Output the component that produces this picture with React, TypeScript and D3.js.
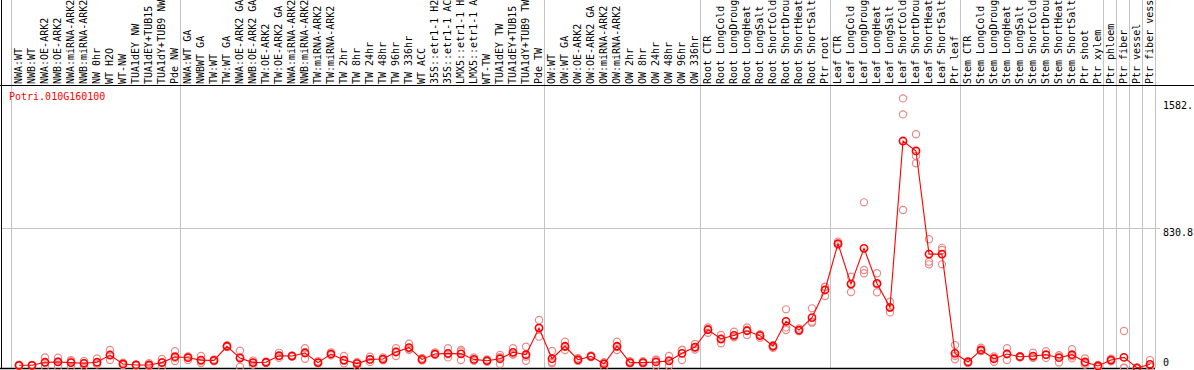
import React from "react";
import * as d3 from "d3";

const categories: string[] = [
  "NWA:WT", "NWB:WT", "NWA:OE-ARK2", "NWB:OE-ARK2", "NWA:miRNA-ARK2", "NWB:miRNA-ARK2",
  "NW 0hr", "WT H2O", "WT-NW", "TUA1dEY NW", "TUA1dEY+TUB15", "TUA1dY+TUB9 NW", "Pde NW",
  "NWA:WT GA", "NWBWT GA", "TW:WT", "TW:WT GA", "NWA:OE-ARK2 GA", "NWB:OE-ARK2 GA",
  "TW:OE-ARK2", "TW:OE-ARK2 GA", "NWA:miRNA-ARK2", "NWB:miRNA-ARK2", "TW:miRNA-ARK2",
  "TW:miRNA-ARK2", "TW 2hr", "TW 8hr", "TW 24hr", "TW 48hr", "TW 96hr", "TW 336hr",
  "WT ACC", "35S::etr1-1 H2", "35S::etr1-1 AC", "LMX5::etr1-1 H", "LMX5::etr1-1 A",
  "WT-TW", "TUA1dEY TW", "TUA1dEY+TUB15", "TUA1dY+TUB9 TW", "Pde TW",
  "OW:WT", "OW:WT GA", "OW:OE-ARK2", "OW:OE-ARK2 GA", "OW:miRNA-ARK2", "OW:miRNA-ARK2",
  "OW 2hr", "OW 8hr", "OW 24hr", "OW 48hr", "OW 96hr", "OW 336hr",
  "Root CTR", "Root LongCold", "Root LongDroug", "Root LongHeat", "Root LongSalt",
  "Root ShortCold", "Root ShortDrou", "Root ShortHeat", "Root ShortSalt", "Ptr root",
  "Leaf CTR", "Leaf LongCold", "Leaf LongDroug", "Leaf LongHeat", "Leaf LongSalt",
  "Leaf ShortCold", "Leaf ShortDrou", "Leaf ShortHeat", "Leaf ShortSalt", "Ptr leaf",
  "Stem CTR", "Stem LongCold", "Stem LongDroug", "Stem LongHeat", "Stem LongSalt",
  "Stem ShortCold", "Stem ShortDrou", "Stem ShortHeat", "Stem ShortSalt",
  "Ptr shoot", "Ptr xylem", "Ptr phloem", "Ptr fiber", "Ptr vessel", "Ptr fiber vess",
];

const means: number[] = [
  16, 16, 34, 36, 32, 28, 34, 77, 24, 18, 18, 32, 67,
  61, 47, 45, 129, 59, 32, 34, 73, 71, 89, 32, 83, 47, 26, 51, 53, 95, 121,
  51, 83, 87, 84, 51, 43, 55, 93, 79, 237,
  55, 129, 49, 69, 24, 129, 32, 32, 36, 42, 87, 124,
  227, 172, 194, 221, 192, 129, 277, 225, 299, 463,
  738, 498, 710, 502, 360, 1347, 1288, 676, 676, 87,
  36, 107, 55, 83, 67, 71, 79, 61, 79,
  36, 12, 47, 63, 0, 22,
];

const replicates: number[][] = [
  [20, 12, 16], [18, 14, 16], [63, 8, 34], [61, 8, 38], [47, 8, 40], [41, 12, 30],
  [57, 24, 22], [107, 77, 48], [32, 18, 22], [20, 16, 18], [28, 14, 12], [53, 8, 34],
  [99, 42, 60], [67, 47, 68], [71, 40, 30], [45, 40, 50], [135, 125, 127], [103, 8, 66],
  [32, 20, 44], [34, 30, 38], [90, 70, 60], [71, 68, 74], [117, 55, 95], [40, 28, 30],
  [93, 80, 76], [71, 28, 42], [12, 30, 36], [67, 50, 36], [63, 50, 46], [117, 71, 97],
  [144, 111, 108], [60, 45, 48], [93, 78, 78], [117, 63, 81], [107, 47, 98], [63, 45, 45],
  [50, 40, 39], [77, 24, 64], [117, 80, 82], [126, 43, 68], [285, 186, 240], [101, 28, 36],
  [156, 107, 124], [60, 45, 42], [75, 65, 67], [8, 30, 34], [156, 107, 124], [40, 28, 28],
  [40, 28, 28], [12, 46, 50], [71, 12, 43], [107, 47, 107], [142, 110, 120],
  [241, 209, 231], [196, 147, 173], [215, 182, 185], [241, 196, 226], [196, 180, 200],
  [120, 135, 132], [348, 241, 225], [235, 220, 220], [354, 269, 274], [482, 427, 480],
  [750, 730, 734], [542, 451, 501], [983, 582, 562], [562, 449, 495], [393, 330, 357],
  [1600, 1505, 938], [1387, 1258, 1215], [764, 631, 615], [700, 615, 713], [136, 52, 73],
  [40, 30, 38], [120, 100, 101], [37, 60, 68], [117, 47, 85], [62, 70, 69], [91, 60, 62],
  [99, 60, 78], [75, 32, 76], [111, 57, 69], [57, 30, 21], [12, 6, 18], [55, 40, 46],
  [220, 2, 0], [0, 0, 0], [47, 10, 10],
];

// indices where a new group starts (separator lines)
const groupStarts: number[] = [0, 13, 41, 53, 63, 73, 84, 85, 86, 87, 88];

const yTickValues: number[] = [0, 830.8, 1582.4];
const yTickLabels: string[] = ["0", "830.8", "1582."];
const gridValues: number[] = [830.8];

const geneName = "Potri.010G160100";

const W = 1194;
const H = 370;
const FONT = "'DejaVu Sans Mono', monospace";

export default function App() {
  const idx = d3.range(categories.length);
  const x = d3.scaleBand<number>().domain(idx).range([11, 1155]).padding(0);
  const y = d3.scaleLinear().domain([0, 830.8]).range([368, 228]);
  const cx = (i: number) => (x(i) as number) + 8;
  const sepX = (k: number) => (k < categories.length ? (x(k) as number) : x.range()[1]);

  const line = d3
    .line<number>()
    .x((_, i) => cx(i))
    .y((d) => y(d));

  return (
    <svg
      width={W}
      height={H}
      style={{ position: "absolute", left: 0, top: 0, background: "#fff" }}
      fontFamily={FONT}
    >
      <rect x={0} y={0} width={W} height={H} fill="#fff" />
      {/* group separator lines */}
      {groupStarts.map((k) => (
        <line
          key={"sep" + k}
          x1={sepX(k) + 0.5}
          x2={sepX(k) + 0.5}
          y1={0}
          y2={368}
          stroke="#c4c4c4"
          strokeWidth={1}
        />
      ))}
      {/* grid lines */}
      {gridValues.map((v) => (
        <line
          key={"g" + v}
          x1={1}
          x2={1160}
          y1={Math.round(y(v)) + 0.5}
          y2={Math.round(y(v)) + 0.5}
          stroke="#c4c4c4"
          strokeWidth={1}
        />
      ))}
      {/* frame */}
      <line x1={0} x2={W} y1={85.5} y2={85.5} stroke="#000" strokeWidth={1} />
      <line x1={0} x2={1155} y1={368.5} y2={368.5} stroke="#000" strokeWidth={1.5} />
      <line x1={1.5} x2={1.5} y1={0} y2={369} stroke="#000" strokeWidth={1} />

      {/* category labels */}
      {categories.map((c, i) => {
        const tx = (x(i) as number) + 10.5;
        return (
          <text
            key={"lab" + i}
            transform={`translate(${tx},84) rotate(-90)`}
            fontSize={10}
            fill="#000"
          >
            {c}
          </text>
        );
      })}

      {/* y labels */}
      {yTickValues.map((v, i) => (
        <text key={"yt" + i} x={1163} y={Math.min(y(v) + 8, 366)} fontSize={10} fill="#000">
          {yTickLabels[i]}
        </text>
      ))}

      {/* gene title */}
      <text x={9} y={100} fontSize={10} fill="#ff0000">
        {geneName}
      </text>

      {/* replicate points */}
      {replicates.map((reps, i) =>
        reps.map((v, j) => (
          <circle
            key={`r${i}-${j}`}
            cx={cx(i)}
            cy={y(v)}
            r={3.6}
            fill="none"
            stroke="#e98a8a"
            strokeWidth={1.2}
          />
        ))
      )}

      {/* mean line */}
      <path d={line(means) || ""} fill="none" stroke="#ff0000" strokeWidth={1.1} />

      {/* mean points */}
      {means.map((v, i) => (
        <circle
          key={"m" + i}
          cx={cx(i)}
          cy={y(v)}
          r={3.6}
          fill="none"
          stroke="#ff0000"
          strokeWidth={1.6}
        />
      ))}
    </svg>
  );
}
